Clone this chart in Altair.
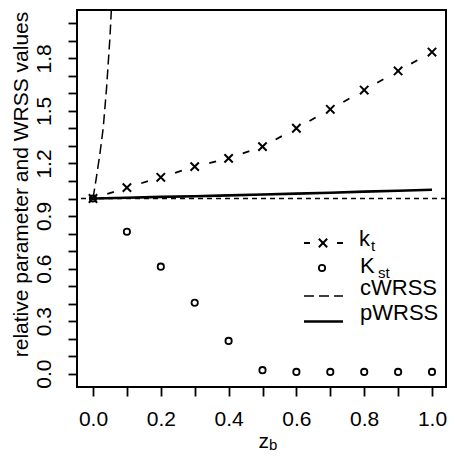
import altair as alt
import pandas as pd

# ---- data ----
zb = [0.0, 0.1, 0.2, 0.3, 0.4, 0.5, 0.6, 0.7, 0.8, 0.9, 1.0]
kt = [1.0, 1.062, 1.121, 1.182, 1.229, 1.296, 1.401, 1.509, 1.619, 1.728, 1.836]
kst = [1.0, 0.81, 0.611, 0.405, 0.187, 0.02, 0.01, 0.01, 0.01, 0.01, 0.01]
pwrss = [1.0, 1.004, 1.009, 1.013, 1.018, 1.023, 1.028, 1.033, 1.039, 1.044, 1.05]
cw_zb = [0.0, 0.01, 0.02, 0.03, 0.04, 0.05, 0.06]
cwrss = [1.0, 1.12, 1.25, 1.40, 1.63, 1.92, 2.30]
ref_level = [1.0]

x_ticks = [0.0, 0.1, 0.2, 0.3, 0.4, 0.5, 0.6, 0.7, 0.8, 0.9, 1.0]
y_ticks = [0.0, 0.1, 0.2, 0.3, 0.4, 0.5, 0.6, 0.7, 0.8, 0.9, 1.0,
           1.1, 1.2, 1.3, 1.4, 1.5, 1.6, 1.7, 1.8, 1.9, 2.0]

legend_labels = ["k", "K", "cWRSS", "pWRSS"]
legend_subs = ["t", "st"]
x_title = "z"
x_title_sub = "b"
y_title = "relative parameter and WRSS values"

FONT = "Liberation Sans"

xs = alt.Scale(domain=[-0.0472, 1.0413], nice=False, zero=False)
ys = alt.Scale(domain=[-0.076, 2.076], nice=False, zero=False)

xaxis = alt.Axis(
    values=x_ticks, title=x_title, grid=False, domain=False,
    tickSize=9, tickWidth=1.8, tickColor="black",
    labelExpr="round(datum.value*10) % 2 == 0 ? format(datum.value, '.1f') : ''",
    labelFont=FONT, labelFontSize=21, labelColor="black", labelOverlap=False,
    labelBaseline="alphabetic", labelPadding=29, labelAlign="center",
    titleFont=FONT, titleFontSize=21, titleFontWeight="normal", titleColor="black",
    titleAlign="left", titleBaseline="alphabetic", titleX=181, titleY=60,
)
yaxis = alt.Axis(
    values=y_ticks, title=y_title, grid=False, domain=False,
    tickSize=9, tickWidth=1.8, tickColor="black",
    labelExpr="round(datum.value*10) % 3 == 0 ? format(datum.value, '.1f') : ''",
    labelFont=FONT, labelFontSize=21, labelColor="black", labelOverlap=False,
    labelAngle=270, labelAlign="center", labelBaseline="alphabetic", labelPadding=18,
    titleFont=FONT, titleFontSize=21, titleFontWeight="normal", titleColor="black",
    titleAngle=270, titleAlign="center", titleBaseline="alphabetic",
    titleX=-50, titleY=174,
)

main = pd.DataFrame({"zb": zb, "kt": kt, "kst": kst, "pwrss": pwrss})
seg = pd.DataFrame({"zb": zb[:-1], "kt": kt[:-1], "zb2": zb[1:], "kt2": kt[1:]})
cw = pd.DataFrame({"zb": cw_zb, "v": cwrss})
ref = pd.DataFrame({"v": ref_level})

ref_line = alt.Chart(ref).mark_rule(color="black", strokeWidth=1.4, strokeDash=[5, 4]).encode(
    y=alt.Y("v:Q", scale=ys, axis=yaxis)
)
p_line = alt.Chart(main).mark_line(color="black", strokeWidth=2.6).encode(
    x=alt.X("zb:Q", scale=xs, axis=xaxis),
    y=alt.Y("pwrss:Q", scale=ys, axis=yaxis),
)
c_line = alt.Chart(cw).mark_line(color="black", strokeWidth=1.5, strokeDash=[10, 5], clip=True).encode(
    x=alt.X("zb:Q", scale=xs, axis=xaxis),
    y=alt.Y("v:Q", scale=ys, axis=yaxis),
)
kt_seg = alt.Chart(seg).mark_rule(color="black", strokeWidth=1.8, strokeDash=[0, 15, 7, 200]).encode(
    x=alt.X("zb:Q", scale=xs, axis=xaxis),
    y=alt.Y("kt:Q", scale=ys, axis=yaxis),
    x2="zb2:Q",
    y2="kt2:Q",
)
cross = "M-1,-1L1,1M-1,1L1,-1"
kt_pts = alt.Chart(main).mark_point(shape=cross, filled=False, color="black", size=70, strokeWidth=2, opacity=1).encode(
    x=alt.X("zb:Q", scale=xs, axis=xaxis),
    y=alt.Y("kt:Q", scale=ys, axis=yaxis),
)
kst_pts = alt.Chart(main).mark_point(shape="circle", filled=False, color="black", size=40, strokeWidth=1.8, opacity=1).encode(
    x=alt.X("zb:Q", scale=xs, axis=xaxis),
    y=alt.Y("kst:Q", scale=ys, axis=yaxis),
)

# ---- legend (drawn inside the plot) ----
one = pd.DataFrame({"s": [0]})
leg_kt_line = alt.Chart(one).mark_rule(color="black", strokeWidth=1.8, strokeDash=[6, 27, 6, 50]).encode(
    x=alt.value(227), x2=alt.value(266), y=alt.value(233)
)
leg_kt_pt = alt.Chart(one).mark_point(shape=cross, filled=False, color="black", size=70, strokeWidth=2, opacity=1).encode(
    x=alt.value(246), y=alt.value(233)
)
leg_kst_pt = alt.Chart(one).mark_point(shape="circle", filled=False, color="black", size=40, strokeWidth=1.8, opacity=1).encode(
    x=alt.value(245), y=alt.value(258)
)
leg_c_line = alt.Chart(one).mark_rule(color="black", strokeWidth=1.5, strokeDash=[10, 5]).encode(
    x=alt.value(227), x2=alt.value(266), y=alt.value(286)
)
leg_p_line = alt.Chart(one).mark_rule(color="black", strokeWidth=2.6).encode(
    x=alt.value(227), x2=alt.value(266), y=alt.value(311.5)
)

def txt(s, x, y, size):
    return alt.Chart(pd.DataFrame({"t": [s]})).mark_text(
        font=FONT, fontSize=size, color="black", align="left", baseline="alphabetic"
    ).encode(text="t:N", x=alt.value(x), y=alt.value(y))

leg_texts = [
    txt(legend_labels[0], 282, 236, 22),
    txt(legend_subs[0], 294, 241, 15),
    txt(legend_labels[1], 283, 263, 22),
    txt(legend_subs[1], 301, 268, 15),
    txt(legend_labels[2], 283, 285, 22),
    txt(legend_labels[3], 283, 309.5, 22),
    txt(x_title_sub, 192, 440, 15),
]

chart = alt.layer(
    ref_line, p_line, c_line, kt_seg, kt_pts, kst_pts,
    leg_kt_line, leg_kt_pt, leg_kst_pt, leg_c_line, leg_p_line, *leg_texts
).properties(
    width=369, height=377,
    autosize=alt.AutoSizeParams(type="none"),
    padding={"left": 69, "top": 2, "right": 1, "bottom": 65},
    background="white",
).configure_view(
    stroke="black", strokeWidth=2
)

chart.save("out.html", embed_options={"renderer": "svg", "actions": False})
